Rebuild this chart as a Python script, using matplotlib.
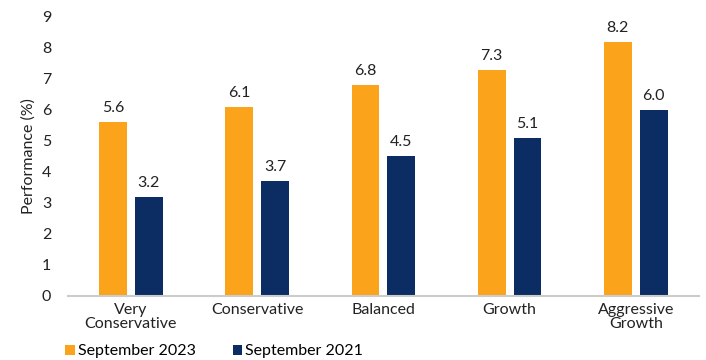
import matplotlib.pyplot as plt
import numpy as np

plt.rcParams['font.family'] = ['Lato', 'DejaVu Sans']

categories = ['Very\nConservative', 'Conservative', 'Balanced', 'Growth', 'Aggressive\nGrowth']
sep_2023 = [5.6, 6.1, 6.8, 7.3, 8.2]
sep_2021 = [3.2, 3.7, 4.5, 5.1, 6.0]

x = np.arange(len(categories))
width = 0.22
off = 0.142
fs = 11.5

fig = plt.figure(figsize=(7.06, 3.6), dpi=100)
ax = fig.add_axes([0.096, 0.178, 0.894, 0.775])

p1 = ax.bar(x - off, sep_2023, width=width, color='#FBA31B', label='September 2023')
p2 = ax.bar(x + off, sep_2021, width=width, color='#0B2D63', label='September 2021')
ax.bar_label(p1, fmt='%.1f', padding=5, fontsize=fs, color='#222222')
ax.bar_label(p2, fmt='%.1f', padding=5, fontsize=fs, color='#222222')

ax.set_xlim(-0.5, len(categories) - 0.5)
ax.set_ylim(0, 9)
ax.set_yticks(range(10))
ax.set_xticks(x, categories)
ax.tick_params(axis='both', length=0, labelsize=fs, colors='#222222')
ax.tick_params(axis='y', pad=12)
ax.tick_params(axis='x', pad=5)
ax.set_ylabel('Performance (%)', fontsize=fs, color='#222222', labelpad=4)
for s in ['top', 'right', 'left']:
    ax.spines[s].set_visible(False)
ax.spines['bottom'].set_color('#CCCCCC')
ax.spines['bottom'].set_linewidth(1.5)

for lbl in ax.get_xticklabels():
    lbl.set_linespacing(1.0)

fig.legend(handles=[p1, p2], loc='lower left', bbox_to_anchor=(0.072, -0.035), ncol=2,
           frameon=False, fontsize=fs, handlelength=0.6, handleheight=0.6,
           handletextpad=0.2, columnspacing=2.3)

fig.savefig('out.png', dpi=100)
